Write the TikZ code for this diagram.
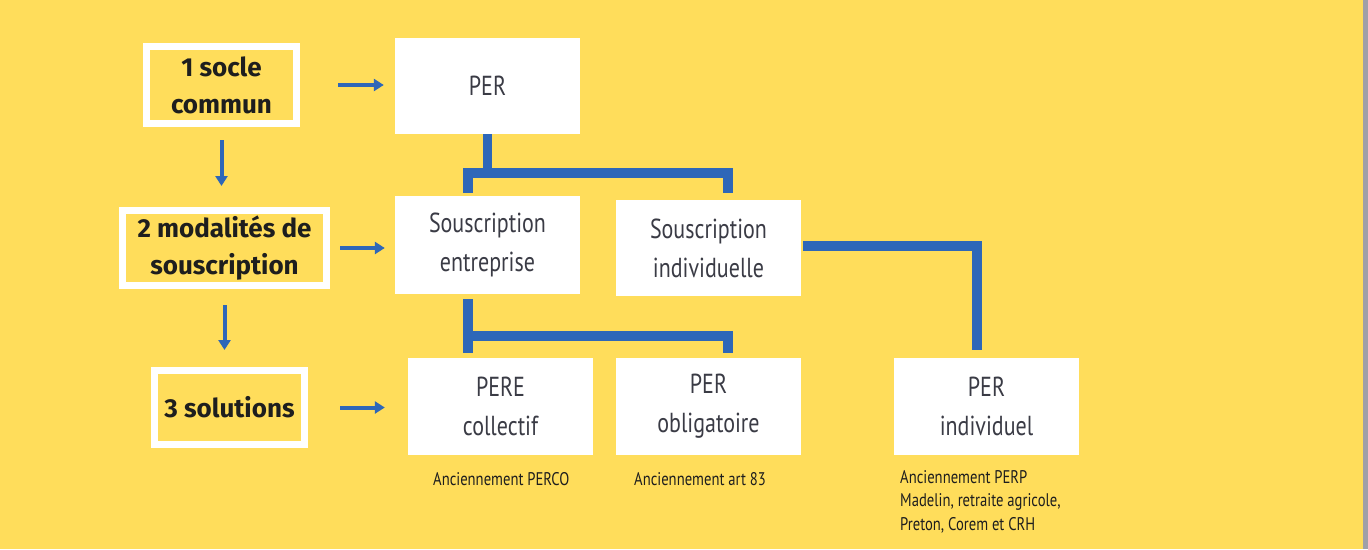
\documentclass[tikz,border=0pt]{standalone}
\usepackage{fontspec}
\usetikzlibrary{arrows.meta}
\newfontfamily\boxfont[FakeStretch=0.80]{PT Sans}
\newfontfamily\labfont{Fira Sans}
\definecolor{bgyellow}{HTML}{FFDD5B}
\definecolor{cblue}{HTML}{2E67B8}
\definecolor{boxtext}{HTML}{3A3B45}
\definecolor{labtext}{HTML}{1E1E1E}
\definecolor{edgegray}{HTML}{A0A0A8}
\tikzset{
  wbox/.style={rectangle, fill=white, draw=none, minimum width=185pt, minimum height=96pt,
    inner sep=0pt, align=center, text=boxtext, font=\boxfont\fontsize{27.5}{39}\selectfont},
  lab/.style={rectangle, draw=white, line width=7pt, inner sep=0pt, align=center,
    text=labtext, font=\labfont\bfseries\fontsize{26}{37}\selectfont},
  note/.style={inner sep=0pt, anchor=base west, align=left, text=labtext,
    font=\boxfont\fontsize{18.3}{23.5}\selectfont},
  arr/.style={draw=cblue, line width=4pt, -{Triangle[length=10pt,width=12pt]}},
  conn/.style={draw=cblue, line width=9.5pt, line join=miter}
}
\begin{document}
\begin{tikzpicture}[x=1pt,y=-1pt]
\fill[bgyellow] (0,0) rectangle (1368,549);
\fill[edgegray] (1363,0) rectangle (1368,549);
\useasboundingbox (0,0) rectangle (1368,549);

% left labels
\node[lab, minimum width=150pt, minimum height=77pt] (l1) at (221.5,85) {1 socle\\commun};
\node[lab, minimum width=204pt, minimum height=75pt] (l2) at (224.5,248) {2 modalités de\\souscription};
\node[lab, minimum width=150pt, minimum height=74pt] (l3) at (229.5,407.5) {3 solutions};

% white boxes
\node[wbox] (per) at (487.5,86) {PER};
\node[wbox, minimum height=98pt] (se) at (487.5,245) {Souscription\\entreprise};
\node[wbox] (si) at (708.5,248) {Souscription\\individuelle};
\node[wbox, minimum height=97pt] (pc) at (500.5,406.5) {PERE\\collectif};
\node[wbox, minimum height=97pt] (po) at (708.5,406.5) {PER\\obligatoire};
\node[wbox, minimum height=97pt] (pi) at (986.5,406.5) {PER\\individuel};

% notes
\node[note] (n1) at (433,485) {Anciennement PERCO};
\node[note] (n2) at (634,485) {Anciennement art 83};
\node[note, anchor=north west] (n3) at (900,470) {Anciennement PERP\\Madelin, retraite agricole,\\Preton, Corem et CRH};

% arrows
\draw[arr, shorten <=38pt, shorten >=11pt] (l1.east) -- (l1.east -| per.west);
\draw[arr, shorten <=10pt, shorten >=10pt] (l2.east) -- (l2.east -| se.west);
\draw[arr, shorten <=32pt, shorten >=23pt] (l3.east) -- (l3.east -| pc.west);
\draw[arr, shorten <=13pt, shorten >=21pt] (l1.south) -- (l1.south |- l2.north);
\draw[arr, shorten <=16pt, shorten >=17pt] (l2.south) -- (l2.south |- l3.north);

% connectors
\draw[conn] (per.south) -- ([yshift=-39pt]per.south);
\draw[conn] ([xshift=-19.5pt,yshift=3pt]se.north) |- ([xshift=19.5pt,yshift=27pt]si.north) -- ([xshift=19.5pt,yshift=7pt]si.north);
\draw[conn] ([xshift=-19.5pt,yshift=-5pt]se.south) -- ([xshift=-32.5pt,yshift=5pt]pc.north);
\draw[conn] ([xshift=-32.5pt,yshift=22pt]pc.north) -| ([xshift=19.5pt,yshift=5pt]po.north);
\draw[conn] ([xshift=2pt,yshift=2pt]si.east) -| ([xshift=-9.5pt,yshift=8pt]pi.north);
\end{tikzpicture}
\end{document}
